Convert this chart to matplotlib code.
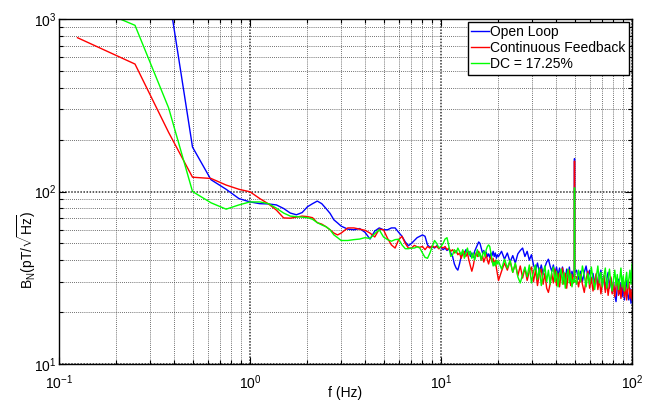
import numpy as np
import matplotlib
matplotlib.use("Agg")
import matplotlib.pyplot as plt
from matplotlib.ticker import LogLocator, NullFormatter

plt.rcParams['font.family'] = ['Liberation Sans', 'DejaVu Sans']
plt.rcParams['mathtext.fontset'] = 'custom'
plt.rcParams['mathtext.rm'] = 'Liberation Sans'
plt.rcParams['mathtext.it'] = 'Liberation Sans:italic'

# frequency bins (Hz): fine steps at low f, thinned out towards 100 Hz
f_low = np.concatenate([np.arange(1, 25) * 0.125, np.arange(3.25, 8.3, 0.25)])
f_high = np.concatenate([np.arange(8.5, 20, 0.25), np.arange(20, 49.5, 0.75),
                         [49.875, 50.0, 50.125], np.arange(51.25, 100.01, 1.25)])
freq = np.concatenate([f_low, f_high])

# noise spectra, pT/sqrt(Hz)
open_loop = [
    3000, 2200, 1400, 181, 117, 103, 91, 87, 85, 84.7, 83.6, 79.7,
    75, 73.3, 75.5, 81.6, 85, 88, 85, 79.7, 74.7, 68.5, 65.7, 63,
    60.5, 60, 61, 58, 53, 59, 61.5, 60, 60, 61.5, 61.5, 58,
    55, 51, 48.5, 50, 52, 54, 55, 56, 55,
    # 8.5 - 19.75 Hz
    49, 47.5, 48, 47, 48.5, 47, 47.5, 46, 47, 45.5, 46.5, 44,
    42, 38, 36, 35, 38, 42, 45, 43, 46, 44, 45, 42,
    44, 41.5, 45, 47, 49, 51, 50, 47, 44, 45.5, 43, 44.5,
    42, 43.5, 41.5, 44, 42.5, 45, 42, 44, 41, 43,
    # 20 - 49.25 Hz
    42, 45, 40.5, 44, 39, 42.5, 38.5, 43.5, 45.5, 47,
    42, 45, 40, 43, 37.5, 35, 38.5, 34, 37.5, 33,
    36.5, 39, 40.5, 37, 34.5, 37.5, 33, 36.5, 32.5, 36,
    32, 36.5, 33, 31, 35.5, 32, 36.5, 30.5, 34.5, 32,
    # line peak at 50 Hz
    33, 155, 34,
    # 51.25 - 100 Hz
    35, 31, 34.5, 30, 34, 37, 32, 35, 29.5, 33.5,
    29, 33, 28, 32, 35, 28.5, 32.5, 27, 31, 34,
    27.5, 31.5, 26, 30, 25, 23, 28, 31, 25.5, 29.5,
    24.5, 28.5, 23.5, 28, 30.5, 25, 23.5, 27.5, 22.5, 26,
]
continuous = [
    779, 548, 220, 121, 119, 109, 103, 99.6, 91, 84.7, 78, 70.3,
    70, 71, 72, 71.5, 70.5, 66, 64.7, 62.5, 60, 57.4, 56, 57.4,
    61.5, 61.5, 60.5, 59.6, 57.4, 54.5, 60.5, 60, 53.5, 49, 47, 52.5,
    55, 50, 47, 47, 48.7, 47.8, 47.5, 48, 46,
    48, 47, 48.5, 47.5, 48, 46.5, 48, 47, 48, 46, 47, 45,
    46, 44, 45.5, 43, 44, 41, 43.5, 45, 42, 44, 40, 37,
    34.5, 37, 41, 44, 42, 45, 43, 40, 42.5, 39, 41, 43,
    40, 38, 40.5, 42, 39, 41, 37.5, 40, 36, 33,
    30.5, 34.5, 38.5, 35, 39.5, 34, 38, 32.5, 37, 31.5,
    36, 30.5, 34.5, 36.5, 30, 35, 28.5, 33.5, 35.5, 29,
    33.5, 27.5, 26, 29, 33.5, 29.5, 35.5, 28.5, 33.5, 28,
    33, 36, 29, 33.5, 27.5, 32.5, 35, 28.5, 33, 29.5,
    31, 150, 32,
    32, 28, 33, 29, 26, 31, 34.5, 27.5, 31.5, 26.5,
    30.5, 33.5, 27, 31, 25.5, 29.5, 32.5, 26, 30, 25,
    29, 32, 25.5, 29.5, 24.5, 28.5, 31.5, 25, 29, 24,
    28, 31, 24.5, 28.5, 23.5, 27.5, 30, 24, 27, 23.5,
]
duty_cycle = [
    1270, 919, 305, 100, 86, 79, 83.6, 87, 87, 85, 80, 75,
    72, 71.5, 71, 70.5, 69, 66, 64, 62.5, 60, 56, 54, 52,
    52, 52.6, 53, 54, 53.4, 57, 60, 54.5, 52.6, 51.5, 52.6, 52.9,
    49, 46.6, 46.6, 47, 47, 47.8, 47, 44, 41.5,
    41, 44, 48, 52, 50, 47, 48, 50, 53, 54, 48, 42,
    43, 46, 44, 47, 45, 43, 46, 41, 44, 47, 43, 45,
    41, 44, 40, 43, 46, 42, 44, 40, 43, 45, 42, 46,
    48, 49, 48, 44, 40, 37, 39, 37, 40, 38,
    39.5, 35.5, 40.5, 36, 40, 34, 38.5, 32, 29.5, 33,
    36.5, 32, 37.5, 29.5, 34.5, 37.5, 31, 36, 28.5, 33.5,
    37, 30, 35, 29, 34, 36.5, 30, 34.5, 28, 33,
    35.5, 29, 34, 27.5, 32.5, 35.5, 29.5, 33.5, 28, 31,
    30, 105, 31,
    29, 35, 30, 37, 32.5, 28, 33.5, 29, 36.5, 31,
    27, 32, 37, 29.5, 34, 28, 32.5, 36, 27.5, 31.5,
    35.5, 29, 26.5, 31, 35, 28.5, 33, 27, 31, 36,
    28, 32.5, 26.5, 30.5, 34, 27.5, 31, 35, 29, 38,
]
labels = ['Open Loop', 'Continuous Feedback', 'DC = 17.25%']
colors = ['#0000ff', '#ff0000', '#00ff00']

fig = plt.figure(figsize=(6.5, 4.07), dpi=100)
ax = fig.add_axes([59 / 650, 43 / 407, 573 / 650, 345 / 407])

for vals, lab, col in zip([open_loop, continuous, duty_cycle], labels, colors):
    ax.loglog(freq, vals, color=col, lw=1.0, label=lab)

ax.set_xlim(0.1, 100)
ax.set_ylim(10, 1000)
ax.xaxis.set_major_locator(LogLocator(base=10, numticks=10))
ax.xaxis.set_minor_locator(LogLocator(base=10, subs=np.arange(2, 10), numticks=20))
ax.yaxis.set_minor_locator(LogLocator(base=10, subs=np.arange(2, 10), numticks=20))
ax.xaxis.set_minor_formatter(NullFormatter())
ax.yaxis.set_minor_formatter(NullFormatter())

ax.grid(True, which='major', color='0.2', linestyle=(0, (1, 1)), lw=1.1)
ax.grid(True, which='minor', color='0.25', linestyle=(0, (1, 1.5)), lw=0.6)

ax.tick_params(which='both', direction='in', top=True, right=True,
               labelsize=10, width=0.8)
ax.tick_params(axis='x', pad=7)
ax.tick_params(axis='y', pad=2)
ax.tick_params(which='major', length=5)
ax.tick_params(which='minor', length=3)
for sp in ax.spines.values():
    sp.set_linewidth(1.0)

fig.text(345 / 650, 1 - 393 / 407, 'f (Hz)', ha='center', va='center', fontsize=10)
fig.text(27 / 650, 1 - 250 / 407, r'B$_{\rm N}$(pT/$\sqrt{\rm Hz}$)',
         rotation=90, ha='center', va='center', fontsize=10)

leg = ax.legend(loc='upper right', bbox_to_anchor=(629 / 650, 1 - 21.7 / 407),
                bbox_transform=fig.transFigure, borderaxespad=0, fontsize=10,
                handlelength=1.25, handletextpad=0.1, labelspacing=0.15,
                borderpad=0.25, fancybox=False, framealpha=1)
leg.get_frame().set_edgecolor('black')
leg.get_frame().set_linewidth(1.0)

fig.savefig('out.png', dpi=100)
